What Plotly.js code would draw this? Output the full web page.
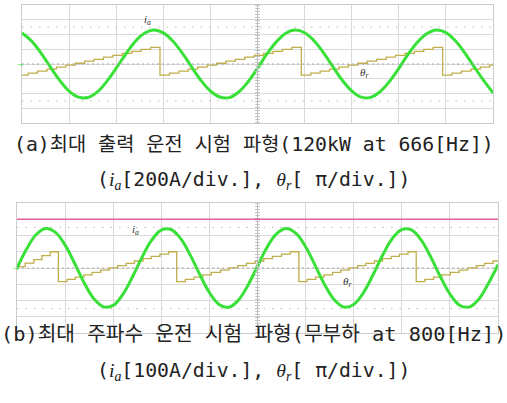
<!DOCTYPE html>
<html><head><meta charset="utf-8">
<script src="https://cdn.plot.ly/plotly-3.0.1.min.js"></script>
<style>html,body{margin:0;padding:0;background:#fff}#chart{width:507px;height:403px}</style>
</head><body><div id="chart"></div>
<script>
// time in oscilloscope divisions (0.5 ms/div), values in vertical divisions
const timeA = [0,0.2,0.4,0.6,0.8,1,1.2,1.4,1.6,1.8,2,2.2,2.4,2.6,2.8,3,3.2,3.4,3.6,3.8,4,4.2,4.4,4.6,4.8,5,5.2,5.4,5.6,5.8,6,6.2,6.4,6.6,6.8,7,7.2,7.4,7.6,7.8,8,8.2,8.4,8.6,8.8,9,9.2,9.4,9.6,9.8,10];
const currentA = [2.10,1.57,0.76,-0.20,-1.11,-1.84,-2.25,-2.27,-1.89,-1.18,-0.28,0.66,1.51,2.08,2.31,
  2.11,1.56,0.75,-0.19,-1.12,-1.83,-2.24,-2.28,-1.90,-1.20,-0.29,0.68,1.50,2.09,2.30,
  2.12,1.58,0.77,-0.18,-1.10,-1.82,-2.25,-2.26,-1.88,-1.19,-0.30,0.67,1.49,2.07,2.31,
  2.13,1.57,0.76,-0.19,-1.11,-1.95];
const thetaA_t = [0,0.13,0.33,0.53,0.73,0.93,1.13,1.33,1.53,1.73,1.93,2.13,2.33,2.53,2.73,
  2.93,3.13,3.33,3.53,3.73,3.93,4.13,4.33,4.53,4.73,4.93,5.13,5.33,5.53,5.73,
  5.93,6.13,6.33,6.53,6.73,6.93,7.13,7.33,7.53,7.73,7.93,8.13,8.33,8.53,8.73,
  8.93,9.13,9.33,9.53,9.73,9.93,10];
const thetaA = [-0.75,-0.62,-0.48,-0.35,-0.21,-0.08,0.05,0.19,0.32,0.46,0.59,0.72,0.86,0.99,1.13,
  -0.75,-0.62,-0.48,-0.35,-0.21,-0.08,0.05,0.19,0.32,0.46,0.59,0.72,0.86,0.99,1.13,
  -0.75,-0.62,-0.48,-0.35,-0.21,-0.08,0.05,0.19,0.32,0.46,0.59,0.72,0.86,0.99,1.13,
  -0.75,-0.62,-0.48,-0.35,-0.21,-0.08,-0.08];

const timeB = [0,0.2,0.4,0.6,0.8,1,1.2,1.4,1.6,1.8,2,2.2,2.4,2.6,2.8,3,3.2,3.4,3.6,3.8,4,4.2,4.4,4.6,4.8,5,5.2,5.4,5.6,5.8,6,6.2,6.4,6.6,6.8,7,7.2,7.4,7.6,7.8,8,8.2,8.4,8.6,8.8,9,9.2,9.4,9.6,9.8,10];
const currentB = [0.00,1.17,2.06,2.43,2.19,1.41,0.28,-0.93,-1.90,-2.39,-2.30,-1.62,-0.55,0.67,1.71,2.33,2.37,1.82,0.81,-0.40,
  -1.51,-2.24,-2.42,-1.99,-1.07,0.12,1.28,2.12,2.43,2.13,1.31,0.15,-1.04,-1.97,-2.41,-2.25,-1.53,-0.43,0.78,1.80,
  2.36,2.34,1.73,0.69,-0.52,-1.60,-2.29,-2.40,-1.92,-0.95,0.20];
const thetaB_t = [0,0.17,0.35,0.52,0.69,
  0.86,1.04,1.21,1.39,1.56,1.74,1.92,2.09,2.27,2.44,2.62,2.79,2.97,3.15,
  3.32,3.50,3.68,3.86,4.04,4.23,4.41,4.59,4.77,4.95,5.13,5.31,5.50,5.68,
  5.86,6.03,6.21,6.38,6.56,6.73,6.91,7.08,7.25,7.43,7.60,7.78,7.95,8.13,
  8.30,8.48,8.66,8.83,9.01,9.19,9.37,9.55,9.72,9.90,10];
const thetaB = [0.08,0.30,0.52,0.76,1.00,
  -0.84,-0.70,-0.56,-0.42,-0.27,-0.13,0.01,0.15,0.29,0.43,0.58,0.72,0.86,1.00,
  -0.84,-0.70,-0.56,-0.42,-0.27,-0.13,0.01,0.15,0.29,0.43,0.58,0.72,0.86,1.00,
  -0.84,-0.70,-0.56,-0.42,-0.27,-0.13,0.01,0.15,0.29,0.43,0.58,0.72,0.86,1.00,
  -0.84,-0.70,-0.56,-0.42,-0.27,-0.13,0.01,0.15,0.29,0.43,0.43];
const limitB = 3.0;

const captionA1 = '(a)최대 출력 운전 시험 파형(120kW at 666[Hz])';
const captionB1 = '(b)최대 주파수 운전 시험 파형(무부하 at 800[Hz])';
const math = s => "<span style=\"font-family:'Liberation Serif'\"><i>" + s + "</i></span>";
const captionA2 = '(' + math('i') + '<sub>' + math('a') + '</sub>[200A/div.], ' + math('θ') + '<sub>' + math('r') + '</sub>[ π/div.])';
const captionB2 = '(' + math('i') + '<sub>' + math('a') + '</sub>[100A/div.], ' + math('θ') + '<sub>' + math('r') + '</sub>[ π/div.])';

const GREEN = '#38e038', OLIVE = '#bfae4a', PINK = '#e0609c';
const CAP_FONT = 'DejaVu Sans Mono, Noto Sans CJK KR';

const data = [
  {x: thetaA_t, y: thetaA, xaxis:'x', yaxis:'y', mode:'lines', line:{shape:'hv', color:OLIVE, width:1.3}, hoverinfo:'skip'},
  {x: timeA, y: currentA, xaxis:'x', yaxis:'y', mode:'lines', line:{shape:'spline', smoothing:1.1, color:GREEN, width:3}, hoverinfo:'skip'},
  {x: thetaB_t, y: thetaB, xaxis:'x2', yaxis:'y2', mode:'lines', line:{shape:'hv', color:OLIVE, width:1.3}, hoverinfo:'skip'},
  {x: timeB, y: currentB, xaxis:'x2', yaxis:'y2', mode:'lines', line:{shape:'spline', smoothing:1.1, color:GREEN, width:3}, hoverinfo:'skip'}
];

const axBase = {range:[0,10], dtick:1, tick0:0, showgrid:true, gridcolor:'#dadada', gridwidth:1, zeroline:false,
  showline:true, mirror:true, linecolor:'#cccccc', linewidth:1, showticklabels:false, ticks:'', fixedrange:true};
const ayBase = {range:[-4,4], dtick:1, tick0:0, showgrid:true, gridcolor:'#dadada', gridwidth:1, zeroline:false,
  showline:true, mirror:true, linecolor:'#cccccc', linewidth:1, showticklabels:false, ticks:'', fixedrange:true};

function panelShapes(xr, yr) {
  return [
    {type:'line', xref:xr, yref:yr, x0:5, x1:5, y0:-4, y1:4, line:{color:'#b8b8b8', width:1}},
    {type:'line', xref:xr, yref:yr, x0:5, x1:5, y0:-4, y1:4, line:{color:'#c4c4c4', width:5, dash:'1px,2px'}},
    {type:'line', xref:xr, yref:yr, x0:0, x1:10, y0:0, y1:0, line:{color:'#a8a8a8', width:1, dash:'2px,3px'}},
    {type:'line', xref:xr, yref:yr, x0:0, x1:10, y0:2.5, y1:2.5, line:{color:'#bdbdbd', width:1, dash:'1.5px,7px'}},
    {type:'line', xref:xr, yref:yr, x0:0, x1:10, y0:-2.5, y1:-2.5, line:{color:'#bdbdbd', width:1, dash:'1.5px,7px'}}
  ];
}

const layout = {
  width:507, height:403, margin:{l:0,r:0,t:0,b:0}, paper_bgcolor:'#ffffff', plot_bgcolor:'#ffffff', showlegend:false,
  xaxis: Object.assign({}, axBase, {domain:[22/507, 493/507], anchor:'y'}),
  yaxis: Object.assign({}, ayBase, {domain:[1-123/403, 1-5/403], anchor:'x'}),
  xaxis2: Object.assign({}, axBase, {domain:[17/507, 498/507], anchor:'y2'}),
  yaxis2: Object.assign({}, ayBase, {domain:[1-333/403, 1-203/403], anchor:'x2'}),
  shapes: panelShapes('x','y').concat(panelShapes('x2','y2')).concat([
    {type:'line', xref:'x2', yref:'y2', x0:0, x1:10, y0:limitB, y1:limitB, line:{color:PINK, width:1.5}}
  ]),
  annotations: [
    {xref:'x', yref:'y', x:2.67, y:2.98, text:math('i')+'<sub>'+math('a')+'</sub>', showarrow:false, font:{size:11, color:'#333'}},
    {xref:'x', yref:'y', x:7.28, y:-0.61, text:math('θ')+'<sub>'+math('r')+'</sub>', showarrow:false, font:{size:11, color:'#333'}},
    {xref:'x2', yref:'y2', x:2.47, y:2.34, text:math('i')+'<sub>'+math('a')+'</sub>', showarrow:false, font:{size:11, color:'#333'}},
    {xref:'x2', yref:'y2', x:6.88, y:-0.84, text:math('θ')+'<sub>'+math('r')+'</sub>', showarrow:false, font:{size:11, color:'#333'}},
    {xref:'paper', yref:'y', x:15/507, y:0, text:'⊸', showarrow:false, font:{size:7, color:GREEN}},
    {xref:'paper', yref:'y2', x:11/507, y:0, text:'⊸', showarrow:false, font:{size:7, color:GREEN}},
    {xref:'paper', yref:'paper', x:0.5, y:1-145/403, text:captionA1, showarrow:false, font:{family:CAP_FONT, size:19.8, color:'#222'}},
    {xref:'paper', yref:'paper', x:0.5, y:1-180/403, text:captionA2, showarrow:false, font:{family:CAP_FONT, size:19.8, color:'#222'}},
    {xref:'paper', yref:'paper', x:0.5, y:1-348/403, text:captionB1, showarrow:false, font:{family:CAP_FONT, size:20.3, color:'#222'}},
    {xref:'paper', yref:'paper', x:0.5, y:1-386/403, text:captionB2, showarrow:false, font:{family:CAP_FONT, size:19.8, color:'#222'}}
  ]
};

Plotly.newPlot('chart', data, layout, {displayModeBar:false, staticPlot:true});
</script>
</body></html>
